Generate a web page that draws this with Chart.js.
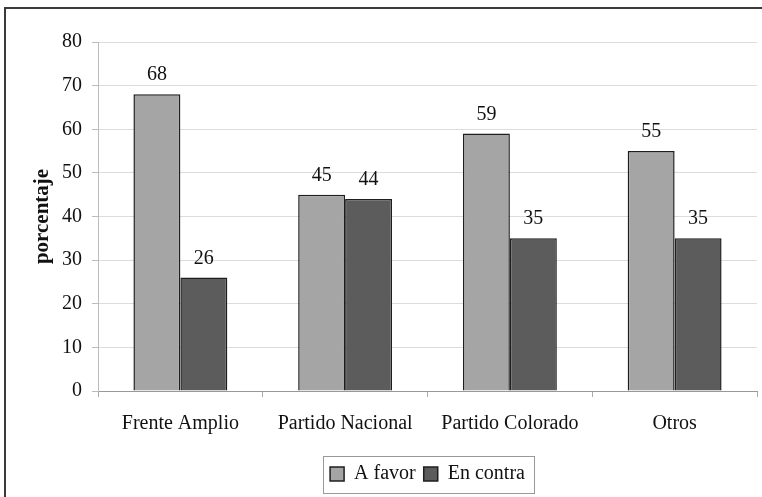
<!DOCTYPE html>
<html>
<head>
<meta charset="utf-8">
<script src="https://cdn.jsdelivr.net/npm/chart.js@4"></script>
<style>
  html, body { margin: 0; padding: 0; background: #fff; }
  canvas { display: block; }
</style>
</head>
<body>
<canvas id="grafico" width="762" height="497"></canvas>
<script>
// datos
const categorias = ['Frente Amplio', 'Partido Nacional', 'Partido Colorado', 'Otros'];
const aFavor = [68, 45, 59, 55];
const enContra = [26, 44, 35, 35];
const ticksY = [0, 10, 20, 30, 40, 50, 60, 70, 80];

const fuente = 'Liberation Serif';

// marco exterior del grafico
const marco = {
    id: 'marco',
    beforeDraw(chart) {
        const c = chart.ctx;
        c.save();
        c.fillStyle = '#fff';
        c.fillRect(0, 0, chart.width, chart.height);
        c.strokeStyle = '#3a3a3a';
        c.lineWidth = 2;
        c.strokeRect(5, 8, 900, 700);
        c.restore();
    }
};

// valores sobre cada barra
const etiquetas = {
    id: 'etiquetas',
    afterDatasetsDraw(chart) {
        const c = chart.ctx;
        c.save();
        c.font = '20px "' + fuente + '"';
        c.fillStyle = '#111';
        c.textAlign = 'center';
        c.textBaseline = 'alphabetic';
        chart.data.datasets.forEach((ds, i) => {
            chart.getDatasetMeta(i).data.forEach((bar, j) => {
                c.fillText(ds.data[j], bar.x, bar.y - 14);
            });
        });
        c.restore();
    }
};

// leyenda centrada bajo el area del grafico + su recuadro
const cajaLeyenda = {
    id: 'cajaLeyenda',
    afterLayout(chart) {
        const lg = chart.legend;
        lg.left = chart.chartArea.left;
        lg.right = chart.chartArea.right;
        lg.width = lg.right - lg.left;
    },
    afterDraw(chart) {
        const hb = chart.legend.legendHitBoxes;
        if (!hb || !hb.length) return;
        const izq = Math.min(...hb.map(h => h.left)) - 7;
        const der = Math.max(...hb.map(h => h.left + h.width)) + 9;
        const mid = hb[0].top + hb[0].height / 2;
        const c = chart.ctx;
        c.save();
        c.strokeStyle = '#999';
        c.lineWidth = 1;
        c.strokeRect(Math.round(izq) + 0.5, Math.round(mid - 18) + 0.5, Math.round(der - izq), 37);
        c.restore();
    }
};

new Chart(document.getElementById('grafico'), {
    type: 'bar',
    data: {
        labels: categorias,
        datasets: [
            {
                label: 'A favor',
                data: aFavor,
                backgroundColor: '#a5a5a5',
                borderColor: '#1e1e1e',
                borderWidth: 1.5,
                borderSkipped: 'bottom',
                categoryPercentage: 0.57,
                barPercentage: 1
            },
            {
                label: 'En contra',
                data: enContra,
                backgroundColor: '#5c5c5c',
                borderColor: '#1e1e1e',
                borderWidth: 1.5,
                borderSkipped: 'bottom',
                categoryPercentage: 0.57,
                barPercentage: 1
            }
        ]
    },
    options: {
        responsive: false,
        animation: false,
        devicePixelRatio: 1,
        layout: {
            padding: { left: 18, top: 42, right: 5, bottom: 3 }
        },
        plugins: {
            title: { display: false },
            tooltip: { enabled: false },
            legend: {
                display: true,
                position: 'bottom',
                labels: {
                    font: { family: fuente, size: 20 },
                    color: '#111',
                    boxWidth: 14,
                    boxHeight: 14,
                    padding: 8
                }
            }
        },
        scales: {
            x: {
                grid: {
                    display: true,
                    drawOnChartArea: false,
                    drawTicks: true,
                    tickLength: 6,
                    tickColor: '#aaa'
                },
                border: { color: '#999', width: 1 },
                ticks: {
                    font: { family: fuente, size: 20 },
                    color: '#111',
                    padding: 15,
                    maxRotation: 0
                },
                afterFit(scale) { scale.height = 65; }
            },
            y: {
                min: 0,
                max: 80,
                afterBuildTicks(scale) { scale.ticks = ticksY.map(v => ({ value: v })); },
                grid: {
                    color: '#dcdcdc',
                    lineWidth: 1,
                    drawTicks: true,
                    tickLength: 6,
                    tickColor: '#bbb'
                },
                border: { color: '#bbb', width: 1 },
                ticks: {
                    font: { family: fuente, size: 20 },
                    color: '#111',
                    padding: 10
                },
                title: {
                    display: true,
                    text: 'porcentaje',
                    font: { family: fuente, size: 21, weight: 'bold' },
                    color: '#111',
                    padding: { top: 12, bottom: 0 }
                },
                afterFit(scale) { scale.width = 80; }
            }
        }
    },
    plugins: [marco, etiquetas, cajaLeyenda]
});
</script>
</body>
</html>
